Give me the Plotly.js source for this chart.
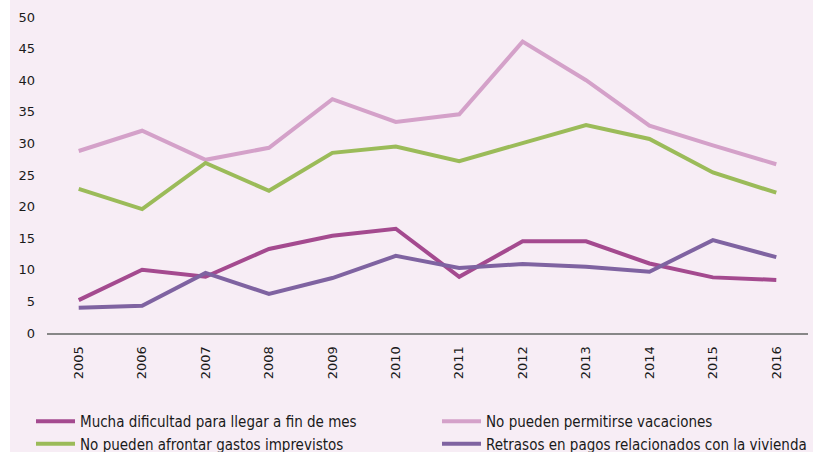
<!DOCTYPE html>
<html>
<head>
<meta charset="utf-8">
<script src="https://cdn.plot.ly/plotly-3.0.1.min.js"></script>
<style>html,body{margin:0;padding:0;background:#fff;}#chart{width:813px;height:452px;}</style>
</head>
<body>
<div id="chart"></div>
<script>
const years = ['2005','2006','2007','2008','2009','2010','2011','2012','2013','2014','2015','2016'];
const seriesNames = [
  'Mucha dificultad para llegar a fin de mes',
  'No pueden permitirse vacaciones',
  'No pueden afrontar gastos imprevistos',
  'Retrasos en pagos relacionados con la vivienda'
];
const muchaDificultad = [5.2, 10.0, 8.9, 13.3, 15.4, 16.5, 8.9, 14.5, 14.5, 11.0, 8.8, 8.4];
const vacaciones = [28.8, 32.0, 27.4, 29.3, 37.0, 33.4, 34.6, 46.1, 40.0, 32.8, 29.7, 26.7];
const imprevistos = [22.8, 19.6, 26.9, 22.5, 28.5, 29.5, 27.2, 30.0, 32.9, 30.7, 25.4, 22.2];
const retrasos = [4.0, 4.3, 9.5, 6.2, 8.7, 12.2, 10.3, 10.9, 10.5, 9.7, 14.7, 12.0];
const yTicks = [0, 5, 10, 15, 20, 25, 30, 35, 40, 45, 50];

const colors = ['#A44A8F', '#D4A1C9', '#9BBB59', '#7F63A1'];
const values = [muchaDificultad, vacaciones, imprevistos, retrasos];

const traces = values.map((v, i) => ({
  type: 'scatter', mode: 'lines', x: years, y: v, name: seriesNames[i],
  line: {color: colors[i], width: 4, shape: 'linear'},
  hoverinfo: 'x+y+name'
}));

const W = 813, H = 452, L = 47, R = 5, T = 17, B = 119;
const pw = W - L - R, ph = H - T - B;

const layout = {
  width: W, height: H,
  margin: {l: L, r: R, t: T, b: B, pad: 0, autoexpand: false},
  paper_bgcolor: '#ffffff',
  plot_bgcolor: 'rgba(0,0,0,0)',
  font: {family: 'DejaVu Sans, Verdana, sans-serif', size: 13, color: '#1a1a1a'},
  showlegend: true,
  shapes: [{
    type: 'rect', xref: 'paper', yref: 'paper', layer: 'below',
    x0: (10 - L) / pw, x1: (W - L + 5) / pw,
    y0: -(B + 5) / ph, y1: (ph + T + 5) / ph,
    fillcolor: '#F7EDF5', line: {width: 0}
  }],
  xaxis: {
    type: 'category', range: [-0.5, 11.5],
    showgrid: false, zeroline: false,
    showline: true, linecolor: '#878787', linewidth: 2,
    ticks: '', tickangle: -90, ticklabelstandoff: 6,
    tickfont: {family: 'DejaVu Sans, Verdana, sans-serif', size: 13, color: '#1a1a1a'},
    fixedrange: true
  },
  yaxis: {
    range: [0, 50], tickvals: yTicks, ticktext: yTicks.map(String),
    showgrid: false, zeroline: false, showline: false,
    ticks: '', ticklabelstandoff: 11,
    tickfont: {family: 'DejaVu Sans, Verdana, sans-serif', size: 13, color: '#1a1a1a'},
    fixedrange: true
  },
  legend: {
    orientation: 'h', x: (31 - L) / pw, xanchor: 'left',
    y: (T + ph - 405) / ph, yanchor: 'top',
    bgcolor: 'rgba(0,0,0,0)', borderwidth: 0,
    itemwidth: 39,
    entrywidth: 352, entrywidthmode: 'pixels',
    traceorder: 'normal',
    font: {family: 'DejaVu Sans Condensed, sans-serif', size: 15, color: '#1a1a1a'}
  }
};

Plotly.newPlot('chart', traces, layout, {displayModeBar: false, staticPlot: true});
</script>
</body>
</html>
